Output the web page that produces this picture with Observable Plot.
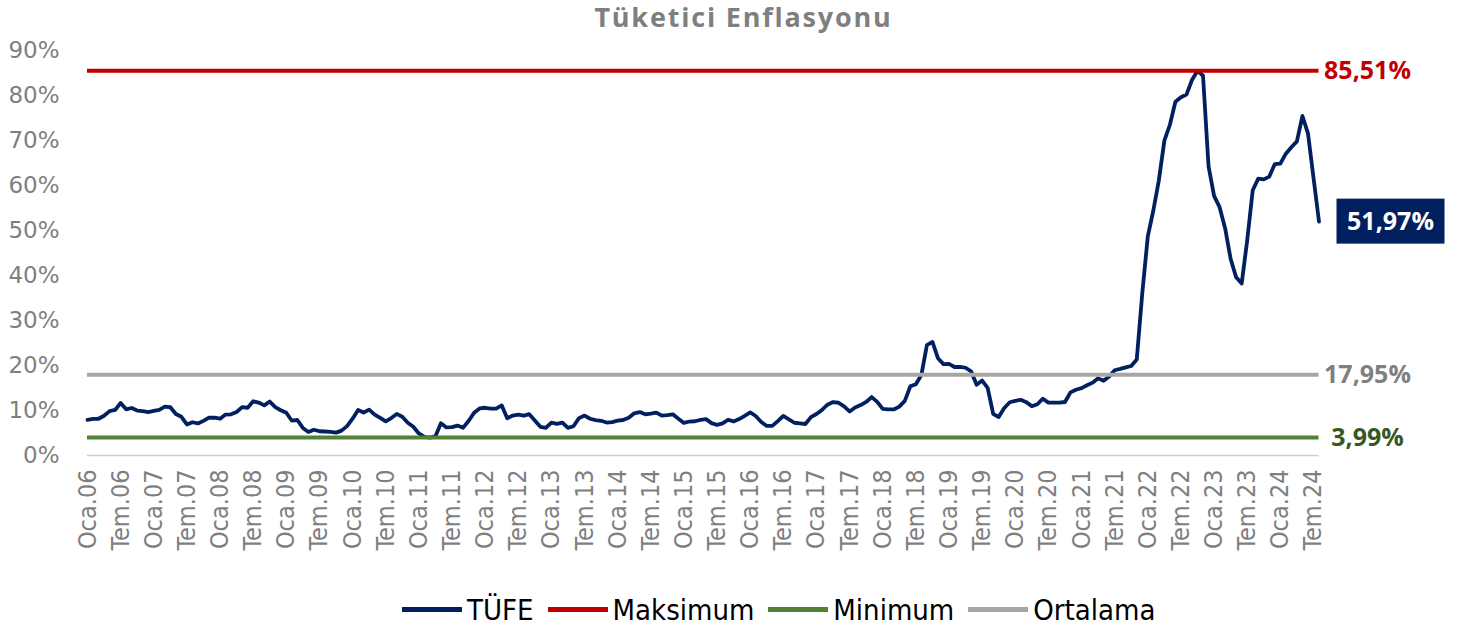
<!DOCTYPE html>
<html><head><meta charset="utf-8">
<script src="https://cdn.jsdelivr.net/npm/d3@7"></script>
<script src="https://cdn.jsdelivr.net/npm/@observablehq/plot@0.6"></script>
<style>
body{margin:0;background:#fff;width:1457px;height:633px;overflow:hidden;}
#title{height:34px;padding-top:2px;line-height:30px;text-align:center;padding-left:30px;font-family:"Open Sans",sans-serif;font-weight:700;font-size:27px;color:#7f7f7f;letter-spacing:1.8px;}
#chart svg{display:block;}
#legend{height:47px;display:flex;align-items:center;padding-left:402px;font-family:"Liberation Sans Narrow","DejaVu Sans Condensed","Liberation Sans",sans-serif;font-size:29px;color:#000;}
.item{display:flex;align-items:center;margin-right:14px;}
.sw{width:60px;height:5px;margin-right:5px;}
</style></head><body>
<div id="title">Tüketici Enflasyonu</div>
<div id="chart"></div>
<div id="legend"></div>
<script>
// Yıllık TÜFE (%), Ocak 2006 – Ağustos 2024
const startYear = 2006;
const tufe = [
  7.93, 8.15, 8.16, 8.83, 9.86, 10.12, 11.69, 10.26, 10.55, 9.98, 9.86, 9.65,
  9.93, 10.16, 10.86, 10.72, 9.23, 8.60, 6.90, 7.39, 7.12, 7.70, 8.40, 8.39,
  8.17, 9.10, 9.15, 9.66, 10.74, 10.61, 12.06, 11.77, 11.13, 11.99, 10.76, 10.06,
  9.50, 7.73, 7.89, 6.13, 5.24, 5.73, 5.39, 5.33, 5.27, 5.08, 5.53, 6.53,
  8.19, 10.13, 9.56, 10.19, 9.10, 8.37, 7.58, 8.33, 9.24, 8.62, 7.29, 6.40,
  4.90, 4.16, 3.99, 4.26, 7.17, 6.24, 6.31, 6.65, 6.15, 7.66, 9.48, 10.45,
  10.61, 10.43, 10.43, 11.14, 8.28, 8.87, 9.07, 8.88, 9.19, 7.80, 6.37, 6.16,
  7.31, 7.03, 7.29, 6.13, 6.51, 8.30, 8.88, 8.17, 7.88, 7.71, 7.32, 7.40,
  7.75, 7.89, 8.39, 9.38, 9.66, 9.16, 9.32, 9.54, 8.86, 8.96, 9.15, 8.17,
  7.24, 7.55, 7.61, 7.91, 8.09, 7.20, 6.81, 7.14, 7.95, 7.58, 8.10, 8.81,
  9.58, 8.78, 7.46, 6.57, 6.58, 7.64, 8.79, 8.05, 7.28, 7.16, 7.00, 8.53,
  9.22, 10.13, 11.29, 11.87, 11.72, 10.90, 9.79, 10.68, 11.20, 11.90, 12.98, 11.92,
  10.35, 10.26, 10.23, 10.85, 12.15, 15.39, 15.85, 17.90, 24.52, 25.24, 21.62, 20.30,
  20.35, 19.67, 19.71, 19.50, 18.71, 15.72, 16.65, 15.01, 9.26, 8.55, 10.56, 11.84,
  12.15, 12.37, 11.86, 10.94, 11.39, 12.62, 11.76, 11.77, 11.75, 11.89, 14.03, 14.60,
  14.97, 15.61, 16.19, 17.14, 16.59, 17.53, 18.95, 19.25, 19.58, 19.89, 21.31, 36.08,
  48.69, 54.44, 61.14, 69.97, 73.50, 78.62, 79.60, 80.21, 83.45, 85.51, 84.39, 64.27,
  57.68, 55.18, 50.51, 43.68, 39.59, 38.21, 47.83, 58.94, 61.53, 61.36, 61.98, 64.77,
  64.86, 67.07, 68.50, 69.80, 75.45, 71.60, 61.78, 51.97
];
const maksimum = 85.51;
const minimum = 3.99;
const ortalama = 17.95;
const tickLabels = [
  "Oca.06","Tem.06","Oca.07","Tem.07","Oca.08","Tem.08","Oca.09","Tem.09",
  "Oca.10","Tem.10","Oca.11","Tem.11","Oca.12","Tem.12","Oca.13","Tem.13",
  "Oca.14","Tem.14","Oca.15","Tem.15","Oca.16","Tem.16","Oca.17","Tem.17",
  "Oca.18","Tem.18","Oca.19","Tem.19","Oca.20","Tem.20","Oca.21","Tem.21",
  "Oca.22","Tem.22","Oca.23","Tem.23","Oca.24","Tem.24"
];
const yTicks = [0, 10, 20, 30, 40, 50, 60, 70, 80, 90];
const seriesNames = ["TÜFE", "Maksimum", "Minimum", "Ortalama"];
const seriesColors = ["#002060", "#C00000", "#548235", "#A6A6A6"];
const labelColors = ["#ffffff", "#C00000", "#385723", "#7F7F7F"];

const data = tufe.map((v, i) => ({i, v}));
const lastI = tufe.length - 1;
const last = data[lastI];
const tickIdx = tickLabels.map((_, k) => k * 6);
const fmt = v => v.toFixed(2).replace(".", ",") + "%";
const narrow = "'Liberation Sans Narrow','DejaVu Sans Condensed','Liberation Sans',sans-serif";
const boldFont = "'Open Sans',sans-serif";

const refs = [
  {v: maksimum, c: 1},
  {v: minimum, c: 2},
  {v: ortalama, c: 3}
];

const plot = Plot.plot({
  width: 1457, height: 550,
  marginLeft: 87, marginRight: 138.5, marginTop: 14, marginBottom: 131,
  x: {domain: [0, lastI]},
  y: {domain: [0, 90]},
  style: {background: "#fff", overflow: "visible"},
  marks: [
    Plot.axisY({ticks: yTicks, tickFormat: d => d + "%", tickSize: 0, tickPadding: 28, label: null,
      fontSize: 23, fontFamily: "DejaVu Sans", color: "#7f7f7f"}),
    Plot.axisX({ticks: tickIdx, tickFormat: d => tickLabels[Math.round(d / 6)], tickRotate: -90, label: null,
      tickSize: 0, tickPadding: 14, fontSize: 25, fontFamily: narrow, color: "#7f7f7f",
      textAnchor: "end", lineAnchor: "middle"}),
    Plot.ruleY([0], {stroke: "#d0d0d0", strokeWidth: 1.5}),
    Plot.line(data, {x: "i", y: "v", stroke: seriesColors[0], strokeWidth: 3.8, strokeLinejoin: "round"}),
    Plot.ruleY(refs, {y: "v", stroke: d => seriesColors[d.c], strokeWidth: 4}),
    Plot.text(refs, {x: () => lastI, y: "v", text: d => fmt(d.v), fill: d => labelColors[d.c],
      dx: 48.5, textAnchor: "middle", fontSize: 25, fontWeight: 700, fontFamily: boldFont}),
    (index, scales) => {
      const g = d3.create("svg:g");
      const cx = scales.x(last.i), cy = scales.y(last.v);
      g.append("rect").attr("x", cx + 18).attr("y", cy - 22.5).attr("width", 108).attr("height", 45)
        .attr("fill", seriesColors[0]);
      g.append("text").attr("x", cx + 72).attr("y", cy).attr("dy", "0.35em")
        .attr("text-anchor", "middle").attr("fill", labelColors[0])
        .attr("font-family", boldFont).attr("font-weight", 700).attr("font-size", 25)
        .text(fmt(last.v));
      return g.node();
    }
  ]
});
document.getElementById("chart").appendChild(plot);

const legend = d3.select("#legend");
seriesNames.forEach((n, k) => {
  const it = legend.append("div").attr("class", "item");
  it.append("div").attr("class", "sw").style("background", seriesColors[k]);
  it.append("span").text(n);
});
</script>
</body></html>
